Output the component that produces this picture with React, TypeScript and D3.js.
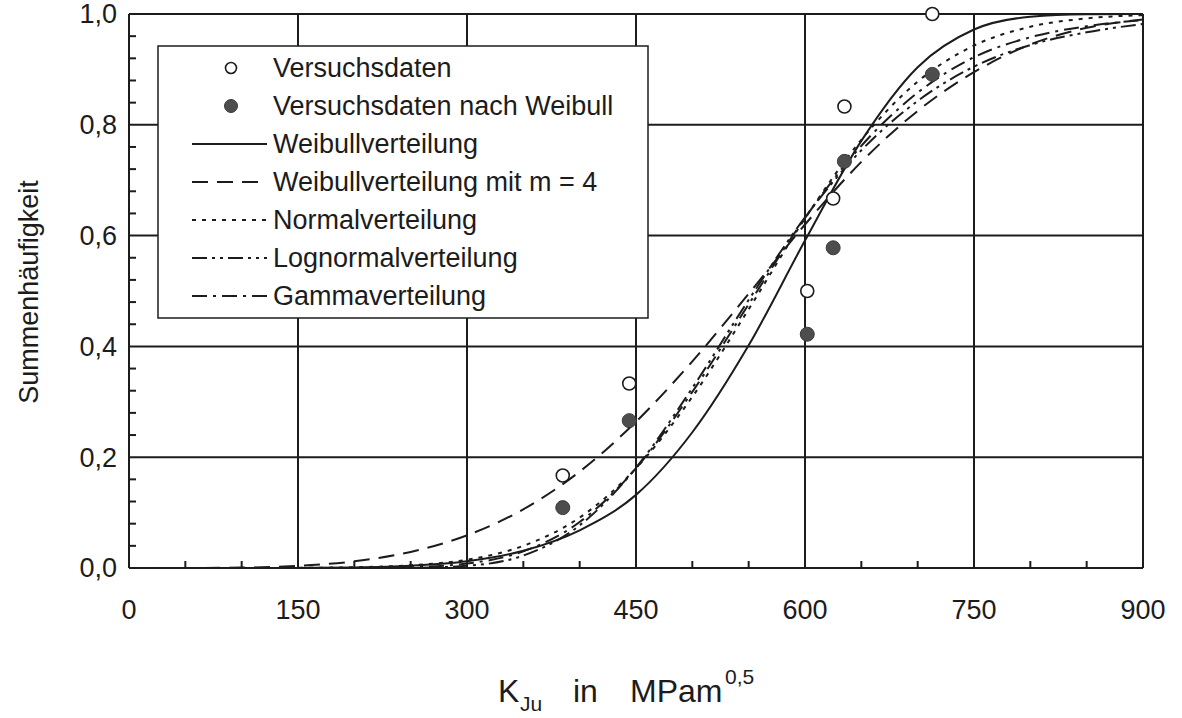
import React from 'react';
import * as d3 from 'd3';

// ---- data ----
const kjuValues = [385, 444, 602, 625, 635, 713];
const versuchsdaten = [0.167, 0.333, 0.5, 0.667, 0.833, 1.0];
const versuchsdatenWeibull = [0.109, 0.266, 0.422, 0.578, 0.734, 0.891];

const curveX = [0, 50, 100, 150, 200, 250, 300, 350, 400, 450, 500, 550, 600, 650, 700, 750, 800, 850, 900];
const weibull = [0, 0, 0, 0.0002, 0.001, 0.004, 0.012, 0.031, 0.068, 0.132, 0.245, 0.402, 0.591, 0.771, 0.904, 0.972, 0.995, 0.9995, 1.0];
const weibullM4 = [0, 0.0001, 0.0007, 0.004, 0.012, 0.029, 0.059, 0.106, 0.174, 0.264, 0.373, 0.495, 0.62, 0.733, 0.825, 0.895, 0.945, 0.975, 0.99];
const normal = [0, 0, 0.0001, 0.0003, 0.0013, 0.005, 0.015, 0.04, 0.091, 0.18, 0.309, 0.467, 0.631, 0.773, 0.878, 0.943, 0.977, 0.992, 0.998];
const lognormal = [0, 0, 0, 0, 0, 0.0003, 0.004, 0.0225, 0.077, 0.181, 0.325, 0.484, 0.633, 0.754, 0.843, 0.905, 0.944, 0.967, 0.982];
const gamma = [0, 0, 0, 0, 0.0002, 0.0015, 0.008, 0.03, 0.083, 0.18, 0.318, 0.476, 0.632, 0.762, 0.858, 0.922, 0.958, 0.978, 0.989];

const xTicks = [0, 150, 300, 450, 600, 750, 900];
const xTickLabels = ['0', '150', '300', '450', '600', '750', '900'];
const xMinorTicks = [50, 100, 200, 250, 350, 400, 500, 550, 650, 700, 800, 850];
const yTicks = [0, 0.2, 0.4, 0.6, 0.8, 1.0];
const yTickLabels = ['0,0', '0,2', '0,4', '0,6', '0,8', '1,0'];
const yMinorTicks = [0.04, 0.08, 0.12, 0.16, 0.24, 0.28, 0.32, 0.36, 0.44, 0.48, 0.52, 0.56, 0.64, 0.68, 0.72, 0.76, 0.84, 0.88, 0.92, 0.96];

const legendLabels = [
  'Versuchsdaten',
  'Versuchsdaten nach Weibull',
  'Weibullverteilung',
  'Weibullverteilung mit m = 4',
  'Normalverteilung',
  'Lognormalverteilung',
  'Gammaverteilung',
];

const INK = '#1c1c1c';
const FONT = '"Liberation Sans", Arial, Helvetica, sans-serif';

export default function App() {
  const W = 1182, H = 718;
  const left = 129, right = 1143, top = 14, bottom = 568;
  const x = d3.scaleLinear().domain([0, 900]).range([left, right]);
  const y = d3.scaleLinear().domain([0, 1]).range([bottom, top]);

  const line = (vals: number[]) =>
    d3.line<number>()
      .x((_, i) => x(curveX[i]))
      .y((d) => y(d))
      .curve(d3.curveMonotoneX)(vals) || '';

  const curves = [
    { vals: weibull, dash: undefined as string | undefined },
    { vals: weibullM4, dash: '16 9' },
    { vals: normal, dash: '4 6' },
    { vals: lognormal, dash: '15 5 3 5 3 5' },
    { vals: gamma, dash: '15 6 3 6' },
  ];

  const legX = 158, legY = 46, legW = 490, legH = 272;
  const rowY = [68, 106, 144, 182, 220, 258, 296];

  return (
    <svg width={W} height={H} style={{ position: 'absolute', left: 0, top: 0, background: '#fff' }} fontFamily={FONT}>
      <rect x={0} y={0} width={W} height={H} fill="#fff" />
      <defs>
        <clipPath id="plot">
          <rect x={left} y={top - 2} width={right - left} height={bottom - top + 2} />
        </clipPath>
      </defs>
      {/* grid */}
      {xTicks.map((t) => (
        <line key={'gx' + t} x1={x(t)} x2={x(t)} y1={y(0)} y2={y(1)} stroke={INK} strokeWidth={2} />
      ))}
      {yTicks.map((t) => (
        <line key={'gy' + t} x1={x(0)} x2={x(900)} y1={y(t)} y2={y(t)} stroke={INK} strokeWidth={2} />
      ))}
      {/* minor ticks */}
      {xMinorTicks.map((t) => (
        <line key={'mx' + t} x1={x(t)} x2={x(t)} y1={y(0)} y2={y(0) - 7} stroke={INK} strokeWidth={2} />
      ))}
      {yMinorTicks.map((t) => (
        <line key={'my' + t} x1={x(0)} x2={x(0) + 7} y1={y(t)} y2={y(t)} stroke={INK} strokeWidth={2} />
      ))}
      {/* tick labels */}
      {xTicks.map((t, i) => (
        <text key={'lx' + t} x={x(t)} y={619} textAnchor="middle" fontSize={27} fill={INK}>{xTickLabels[i]}</text>
      ))}
      {yTicks.map((t, i) => (
        <text key={'ly' + t} x={117} y={y(t)} dy="0.35em" textAnchor="end" fontSize={27} fill={INK}>{yTickLabels[i]}</text>
      ))}
      {/* axis titles */}
      <text transform="translate(38,292) rotate(-90)" textAnchor="middle" fontSize={27} fill={INK}>Summenhäufigkeit</text>
      <text y={702} fontSize={32} fill={INK}>
        <tspan x={498}>K</tspan>
        <tspan x={520} y={711} fontSize={21}>Ju</tspan>
        <tspan x={573} y={702}>in</tspan>
        <tspan x={630}>MPam</tspan>
        <tspan x={725} y={684} fontSize={21}>0,5</tspan>
      </text>
      {/* curves */}
      <g clipPath="url(#plot)">
        {curves.map((c, i) => (
          <path key={'c' + i} d={line(c.vals)} fill="none" stroke={INK} strokeWidth={2} strokeDasharray={c.dash} />
        ))}
      </g>
      {/* points */}
      {kjuValues.map((v, i) => (
        <circle key={'o' + i} cx={x(v)} cy={y(versuchsdaten[i])} r={6.5} fill="#fff" stroke={INK} strokeWidth={1.6} />
      ))}
      {kjuValues.map((v, i) => (
        <circle key={'f' + i} cx={x(v)} cy={y(versuchsdatenWeibull[i])} r={7} fill="#4d4d4d" stroke="#3a3a3a" strokeWidth={1} />
      ))}
      {/* legend */}
      <rect x={legX} y={legY} width={legW} height={legH} fill="#fff" stroke={INK} strokeWidth={1.5} />
      <circle cx={231} cy={rowY[0]} r={5.5} fill="#fff" stroke={INK} strokeWidth={1.6} />
      <circle cx={231} cy={rowY[1]} r={6.5} fill="#4d4d4d" stroke="#3a3a3a" strokeWidth={1} />
      {curves.map((c, i) => (
        <line key={'ll' + i} x1={192} x2={267} y1={rowY[i + 2]} y2={rowY[i + 2]} stroke={INK} strokeWidth={2} strokeDasharray={c.dash} />
      ))}
      {legendLabels.map((l, i) => (
        <text key={'lt' + i} x={273} y={rowY[i]} dy="0.35em" fontSize={27} fill={INK}>{l}</text>
      ))}
    </svg>
  );
}
